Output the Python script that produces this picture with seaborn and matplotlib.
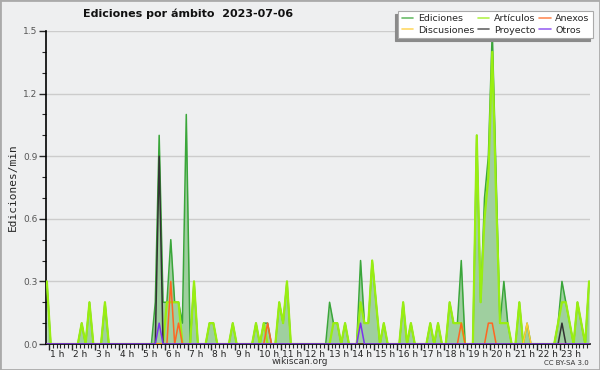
import numpy as np
import pandas as pd
import matplotlib
matplotlib.use("Agg")
import matplotlib.pyplot as plt
from matplotlib.ticker import MultipleLocator, FixedLocator
from matplotlib.transforms import ScaledTranslation
import seaborn as sns

# bins de 10 minutos (índice = minuto del día / 10), valores en ediciones/min
bins = list(range(5, 146))

ediciones = {5: 0.3, 14: 0.1, 16: 0.2, 20: 0.2,
             33: 0.2, 34: 1.0, 35: 0.2, 36: 0.2, 37: 0.5, 38: 0.2, 39: 0.2, 40: 0.1,
             41: 1.1, 43: 0.3, 47: 0.1, 48: 0.1, 53: 0.1, 59: 0.1, 61: 0.1, 62: 0.1,
             65: 0.2, 66: 0.1, 67: 0.3, 78: 0.2, 79: 0.1, 80: 0.1, 82: 0.1,
             86: 0.4, 87: 0.1, 88: 0.1, 89: 0.4, 90: 0.2, 92: 0.1,
             97: 0.2, 99: 0.1, 104: 0.1, 106: 0.1, 109: 0.2, 110: 0.1, 111: 0.1, 112: 0.4,
             116: 1.0, 117: 0.2, 118: 0.7, 119: 0.9, 120: 1.5, 121: 0.8, 122: 0.1,
             123: 0.3, 124: 0.1, 127: 0.2, 129: 0.1,
             137: 0.1, 138: 0.3, 139: 0.2, 140: 0.1, 142: 0.2, 143: 0.1, 145: 0.3}
articulos = {5: 0.3, 14: 0.1, 16: 0.2, 20: 0.2,
             36: 0.2, 37: 0.2, 38: 0.2, 39: 0.2, 43: 0.3, 47: 0.1, 48: 0.1, 53: 0.1,
             59: 0.1, 61: 0.1, 65: 0.2, 66: 0.1, 67: 0.3, 79: 0.1, 80: 0.1, 82: 0.1,
             86: 0.2, 87: 0.1, 88: 0.1, 89: 0.4, 90: 0.2, 92: 0.1,
             97: 0.2, 99: 0.1, 104: 0.1, 106: 0.1, 109: 0.2, 110: 0.1, 111: 0.1, 112: 0.1,
             116: 1.0, 117: 0.2, 118: 0.6, 119: 0.8, 120: 1.4, 121: 0.7, 122: 0.1,
             123: 0.1, 124: 0.1, 127: 0.2,
             137: 0.1, 138: 0.2, 139: 0.2, 140: 0.1, 142: 0.2, 143: 0.1, 145: 0.3}
anexos = {37: 0.3, 39: 0.1, 62: 0.1, 112: 0.1, 119: 0.1, 120: 0.1}
discusiones = {129: 0.1}
proyecto = {34: 0.9, 138: 0.1}
otros = {34: 0.1, 86: 0.1}

series = [
    ("Ediciones", ediciones, "#3aa63a"),
    ("Discusiones", discusiones, "#ffcc33"),
    ("Artículos", articulos, "#99ee11"),
    ("Proyecto", proyecto, "#333333"),
    ("Anexos", anexos, "#ff6622"),
    ("Otros", otros, "#7a33ee"),
]

horas = (np.array(bins) + 0.5) / 6
df = pd.DataFrame({"hora": horas})
for nombre, valores, _ in series:
    df[nombre] = [valores.get(b, 0.0) for b in bins]

bg = "#eeeff0"
sns.set_theme(style="white")
plt.rcParams["font.family"] = ["DejaVu Sans"]

fig = plt.figure(figsize=(6, 3.7), dpi=100, facecolor=bg)
ax = fig.add_axes([46 / 600, 26 / 370, 544 / 600, 313 / 370], facecolor=bg)

ax.fill_between(df["hora"], df["Ediciones"], color="#9fcf9f", lw=0, zorder=1)
orden = ["Ediciones", "Artículos", "Discusiones", "Anexos", "Proyecto", "Otros"]
colores = {n: c for n, _, c in series}
for nombre in orden:
    lw = 1.6 if nombre == "Artículos" else 1.1
    sns.lineplot(data=df, x="hora", y=nombre, ax=ax, color=colores[nombre],
                 lw=lw, zorder=3, legend=False)

ax.set_xlim(0.88, 24.29)
ax.set_ylim(0, 1.5)
ax.yaxis.set_minor_locator(MultipleLocator(0.1))
ax.set_yticks(np.arange(0, 1.51, 0.3))
ax.set_yticklabels([f"{v:.1f}" for v in np.arange(0, 1.51, 0.3)])
ax.grid(axis="y", color="#cccccc", lw=1)
ax.xaxis.set_major_locator(FixedLocator(range(1, 24)))
ax.xaxis.set_minor_locator(MultipleLocator(1 / 6))
ax.set_xticklabels([f"{h} h" for h in range(1, 24)], ha="left")
ax.tick_params(axis="x", which="major", length=4, width=1, pad=0, labelsize=6.5,
               labelcolor="#222222", direction="out", bottom=True)
ax.tick_params(axis="x", which="minor", length=3, width=0.8, direction="out", bottom=True)
ax.tick_params(axis="y", which="major", length=5, width=1, pad=1, labelsize=6.5,
               labelcolor="#555555", direction="out", left=True)
ax.tick_params(axis="y", which="minor", length=3, width=0.8, direction="out", left=True)
for lab in ax.get_xticklabels():
    lab.set_transform(lab.get_transform() + ScaledTranslation(0.01, 0, fig.dpi_scale_trans))

sns.despine(ax=ax)
for s in ["left", "bottom"]:
    ax.spines[s].set_color("black")
    ax.spines[s].set_linewidth(1.2)

ax.set_xlabel("")
ax.set_ylabel("Ediciones/min", family="DejaVu Sans Mono", fontsize=8, labelpad=4)

fig.text(188 / 600, 1 - 14 / 370, "Ediciones por ámbito  2023-07-06", ha="center",
         va="center", fontsize=8, fontweight="bold", color="#111111")
fig.text(300 / 600, 1 - 362 / 370, "wikiscan.org", ha="center", va="center",
         fontsize=6.5, color="#333333")
fig.text(589 / 600, 1 - 363 / 370, "CC BY-SA 3.0", ha="right", va="center",
         fontsize=5, color="#333333")

handles = [plt.Line2D([], [], color=c, lw=1.2, alpha=0.75) for _, _, c in series]
leg = fig.legend(handles, [n for n, _, _ in series], ncol=3, loc="upper right",
                 bbox_to_anchor=(593 / 600, 1 - 11 / 370), borderaxespad=0,
                 fontsize=6.8, frameon=True, fancybox=False, handlelength=1.2,
                 handletextpad=0.5, columnspacing=0.4, labelspacing=0.25,
                 borderpad=0.35,
                 shadow={"ox": -2.5, "oy": -2.5, "color": "#8a8a8a", "alpha": 1})
leg.get_frame().set_edgecolor("#aaaaaa")
leg.get_frame().set_linewidth(0.8)

fig.patches.append(plt.Rectangle((0, 0), 1, 1, transform=fig.transFigure, fill=False,
                                 edgecolor="#aaaaaa", lw=2))

fig.savefig("out.png", dpi=100, facecolor=bg)
